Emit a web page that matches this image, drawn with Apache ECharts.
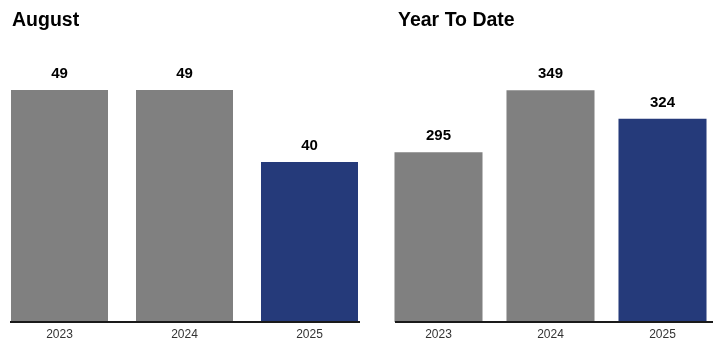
<!DOCTYPE html>
<html>
<head>
<meta charset="utf-8">
<script src="https://cdn.jsdelivr.net/npm/echarts@6/dist/echarts.min.js"></script>
<style>
  html, body { margin: 0; padding: 0; background: #fff; }
  #root { width: 714px; height: 354px; }
</style>
</head>
<body>
<div id="root"></div>
<script>
var years = ['2023', '2024', '2025'];
var monthValues = [49, 49, 40];
var ytdValues = [295, 349, 324];
var titles = ['August', 'Year To Date'];

var GRAY = '#808080';
var NAVY = '#253A7A';

function barData( values )
{
	return values.map(function (v, i) {
		return { value: v, itemStyle: { color: i === values.length - 1 ? NAVY : GRAY } };
	});
}

var labelStyle = {
	show: true,
	position: 'top',
	distance: 9,
	color: '#000',
	fontWeight: 'bold',
	fontSize: 15,
	fontFamily: 'Liberation Sans'
};

var xAxisBase = {
	type: 'category',
	data: years,
	axisLine: { show: false },
	axisTick: { show: false },
	axisLabel: { color: '#333', fontSize: 12, fontFamily: 'Liberation Sans', margin: 7 }
};

var titleStyle = { fontSize: 19.5, fontWeight: 'bold', color: '#000', fontFamily: 'Liberation Sans' };

var chart = echarts.init(document.getElementById('root'));

chart.setOption({
	animation: false,
	title: [
		{ text: titles[0], left: 7, top: 6, textStyle: titleStyle },
		{ text: titles[1], left: 393, top: 6, textStyle: titleStyle }
	],
	grid: [
		{ left: -3, width: 375, top: 50, height: 272, outerBoundsMode: 'none', containLabel: false },
		{ left: 382.5, width: 336, top: 50, height: 272, outerBoundsMode: 'none', containLabel: false }
	],
	xAxis: [
		Object.assign({ gridIndex: 0 }, xAxisBase),
		Object.assign({ gridIndex: 1 }, xAxisBase)
	],
	yAxis: [
		{ gridIndex: 0, type: 'value', min: 20, max: 54, show: false, splitLine: { show: false } },
		{ gridIndex: 1, type: 'value', min: 147, max: 384, show: false, splitLine: { show: false } }
	],
	series: [
		{ type: 'bar', xAxisIndex: 0, yAxisIndex: 0, data: barData(monthValues), barCategoryGap: '22.4%', label: labelStyle },
		{ type: 'bar', xAxisIndex: 1, yAxisIndex: 1, data: barData(ytdValues), barCategoryGap: '21.4%', label: labelStyle }
	],
	graphic: [
		{ type: 'line', shape: { x1: 10, y1: 322, x2: 360, y2: 322 }, style: { stroke: '#1a1a1a', lineWidth: 2 }, z: 100 },
		{ type: 'line', shape: { x1: 395, y1: 322, x2: 713, y2: 322 }, style: { stroke: '#1a1a1a', lineWidth: 2 }, z: 100 }
	]
});
</script>
</body>
</html>
